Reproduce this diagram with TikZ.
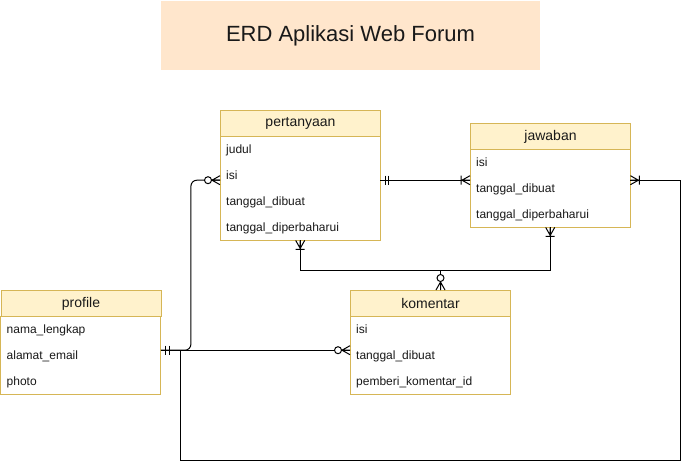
\documentclass[tikz,border=0pt]{standalone}
\usepackage{fontspec}
\setmainfont{Liberation Sans}
\usetikzlibrary{calc}
\definecolor{hdrfill}{HTML}{FFF2CC}
\definecolor{hdrline}{HTML}{D6B656}
\definecolor{titlefill}{HTML}{FFE6CC}
\newcommand\ermandone[2]{\begin{scope}[shift={#1},rotate=#2]\draw[erline] (5,-4.5)--(5,4.5) (8.5,-4.5)--(8.5,4.5);\end{scope}}
\newcommand\eronemany[2]{\begin{scope}[shift={#1},rotate=#2]\draw[erline] (0,-4.5)--(8,0)--(0,4.5) (0,0)--(8,0) (9,-4.5)--(9,4.5);\end{scope}}
\newcommand\erzeromany[2]{\begin{scope}[shift={#1},rotate=#2]\draw[erline] (0,-4.5)--(8,0)--(0,4.5) (0,0)--(8,0); \draw[erline,fill=white] (12,0) circle[radius=3.5];\end{scope}}
\tikzset{
  erline/.style={draw=black, line width=1pt},
  hdr/.style={draw=hdrline, fill=hdrfill, line width=1pt, minimum width=160pt, minimum height=26pt, inner sep=0pt, font=\fontsize{14}{16}\selectfont, anchor=north west, text=black!90},
  fld/.style={minimum width=160pt, minimum height=26pt, inner xsep=6pt, inner ysep=0pt, text width=148pt, align=left, text height=10.5pt, text depth=1.5pt, font=\fontsize{12}{14}\selectfont, anchor=north west, text=black!90},
  tbl/.style={draw=hdrline, line width=1pt},
  ttl/.style={fill=titlefill, minimum width=379pt, minimum height=69pt, inner sep=0pt, font=\fontsize{22}{26}\selectfont, text=black!90}
}
\begin{document}
\begin{tikzpicture}[x=1pt,y=-1pt]
\useasboundingbox (0,0) rectangle (690,463);
\fill[white] (0,0) rectangle (690,463);
% title
\node[ttl] (title) at (350.5,35.5) {ERD Aplikasi Web Forum};
% pertanyaan
\node[hdr] (pH) at (220,110) {pertanyaan};
\node[fld] (p1) at (220,136) {judul};
\node[fld] (p2) at (220,162) {isi};
\node[fld] (p3) at (220,188) {tanggal\_dibuat};
\node[fld] (p4) at (220,214) {tanggal\_diperbaharui};
\draw[tbl] (p1.north west) rectangle (p4.south east);
% jawaban
\node[hdr] (jH) at (470,123) {jawaban};
\node[fld] (j1) at (470,149) {isi};
\node[fld] (j2) at (470,175) {tanggal\_dibuat};
\node[fld] (j3) at (470,201) {tanggal\_diperbaharui};
\draw[tbl] (j1.north west) rectangle (j3.south east);
% profile
\node[hdr] (rH) at (0.5,290) {profile};
\node[fld] (r1) at (0.5,316) {nama\_lengkap};
\node[fld] (r2) at (0.5,342) {alamat\_email};
\node[fld] (r3) at (0.5,368) {photo};
\draw[tbl] (r1.north west) rectangle (r3.south east);
% komentar
\node[hdr] (kH) at (350,290) {komentar};
\node[fld] (k1) at (350,316) {isi};
\node[fld] (k2) at (350,342) {tanggal\_dibuat};
\node[fld] (k3) at (350,368) {pemberi\_komentar\_id};
\draw[tbl] (k1.north west) rectangle (k3.south east);
% connector end points
\coordinate (a1) at ($(p2.east)+(0,5)$);
\coordinate (a2) at ($(j2.west)+(0,-8)$);
\coordinate (b0) at ($(r2.east)+(0,-5)$);
\coordinate (b1) at ($(p2.west)+(0,5)$);
\coordinate (c1) at ($(k2.west)+(0,-5)$);
\coordinate (d1) at ($(j2.east)+(0,-8)$);
\coordinate (e0) at ($(kH.north)+(10,0)$);
\coordinate (jn) at ($(e0)+(0,-20)$);
\coordinate (e1) at (p4.south);
\coordinate (e2) at (j3.south);
% connectors
\draw[erline] (a1) -- (a2);
\draw[erline, rounded corners=6pt] (b0) -- ++(30,0) |- (b1);
\draw[erline] (b0) -- (c1);
\draw[erline] (b0) -- ++(20,0) |- ($(d1)+(50,280)$) |- (d1);
\draw[erline] (e0) -- (jn) -| (e1);
\draw[erline] (jn) -| (e2);
% markers
\ermandone{(b0)}{0}
\ermandone{(a1)}{0}
\eronemany{(a2)}{180}
\erzeromany{(b1)}{180}
\erzeromany{(c1)}{180}
\eronemany{(d1)}{0}
\erzeromany{(e0)}{90}
\eronemany{(e1)}{-90}
\eronemany{(e2)}{-90}
\end{tikzpicture}
\end{document}
